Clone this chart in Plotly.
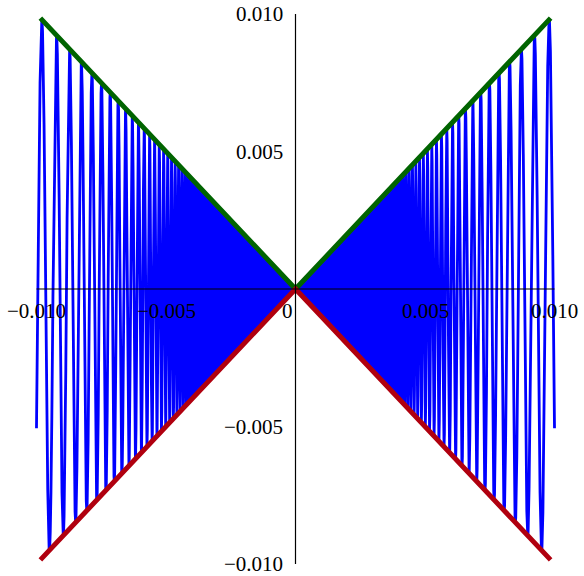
import numpy as np
import plotly.graph_objects as go

# Domain of the plot and the envelope lines
x_min, x_max = -0.01, 0.01
envelope_extent = 0.00985
n_samples = 40000

# Tick values and their labels
x_ticks = [-0.010, -0.005, 0.0, 0.005, 0.010]
x_tick_labels = ["\u22120.010", "\u22120.005", "0", "0.005", "0.010"]
y_ticks = [0.010, 0.005, -0.005, -0.010]
y_tick_labels = ["0.010", "0.005", "\u22120.005", "\u22120.010"]

# f(x) = x sin(1/x), sampled on both sides of the origin
xs = np.linspace(x_min, x_max, n_samples)
xs = xs[xs != 0]
ys = xs * np.sin(1.0 / xs)

env_x = [-envelope_extent, 0.0, envelope_extent]
upper_y = [abs(v) for v in env_x]
lower_y = [-abs(v) for v in env_x]

fig = go.Figure()
fig.add_trace(go.Scatter(x=xs, y=ys, mode="lines",
                         line=dict(color="#0000FF", width=2.8), hoverinfo="skip"))
fig.add_trace(go.Scatter(x=env_x, y=upper_y, mode="lines",
                         line=dict(color="#006400", width=5)))
fig.add_trace(go.Scatter(x=env_x, y=lower_y, mode="lines",
                         line=dict(color="#B0000F", width=5)))

# Axes crossing at the origin
fig.add_shape(type="line", x0=x_min, x1=x_max, y0=0, y1=0, xref="x", yref="y",
              line=dict(color="black", width=1.2), layer="above")
fig.add_shape(type="line", x0=0, x1=0, y0=-0.01, y1=0.01, xref="x", yref="y",
              line=dict(color="black", width=1.2), layer="above")

font = dict(family="Times New Roman, Liberation Serif, serif", size=21, color="black")
annotations = []
for v, t in zip(x_ticks, x_tick_labels):
    annotations.append(dict(x=v, y=0, xref="x", yref="y", text=t, showarrow=False,
                            xanchor="center", yanchor="middle", yshift=-22,
                            xshift=-8 if v == 0 else 0, font=font))
for v, t in zip(y_ticks, y_tick_labels):
    annotations.append(dict(x=0, y=v, xref="x", yref="y", text=t, showarrow=False,
                            xanchor="right", yanchor="middle", xshift=-11,
                            font=font))

fig.update_layout(
    width=584, height=576,
    margin=dict(l=0, r=0, t=0, b=0),
    paper_bgcolor="white", plot_bgcolor="white",
    showlegend=False,
    annotations=annotations,
    xaxis=dict(range=[-0.011409, 0.011139], visible=False, fixedrange=True),
    yaxis=dict(range=[-0.010436, 0.010509], visible=False, fixedrange=True),
)

fig.write_html("out.html")
